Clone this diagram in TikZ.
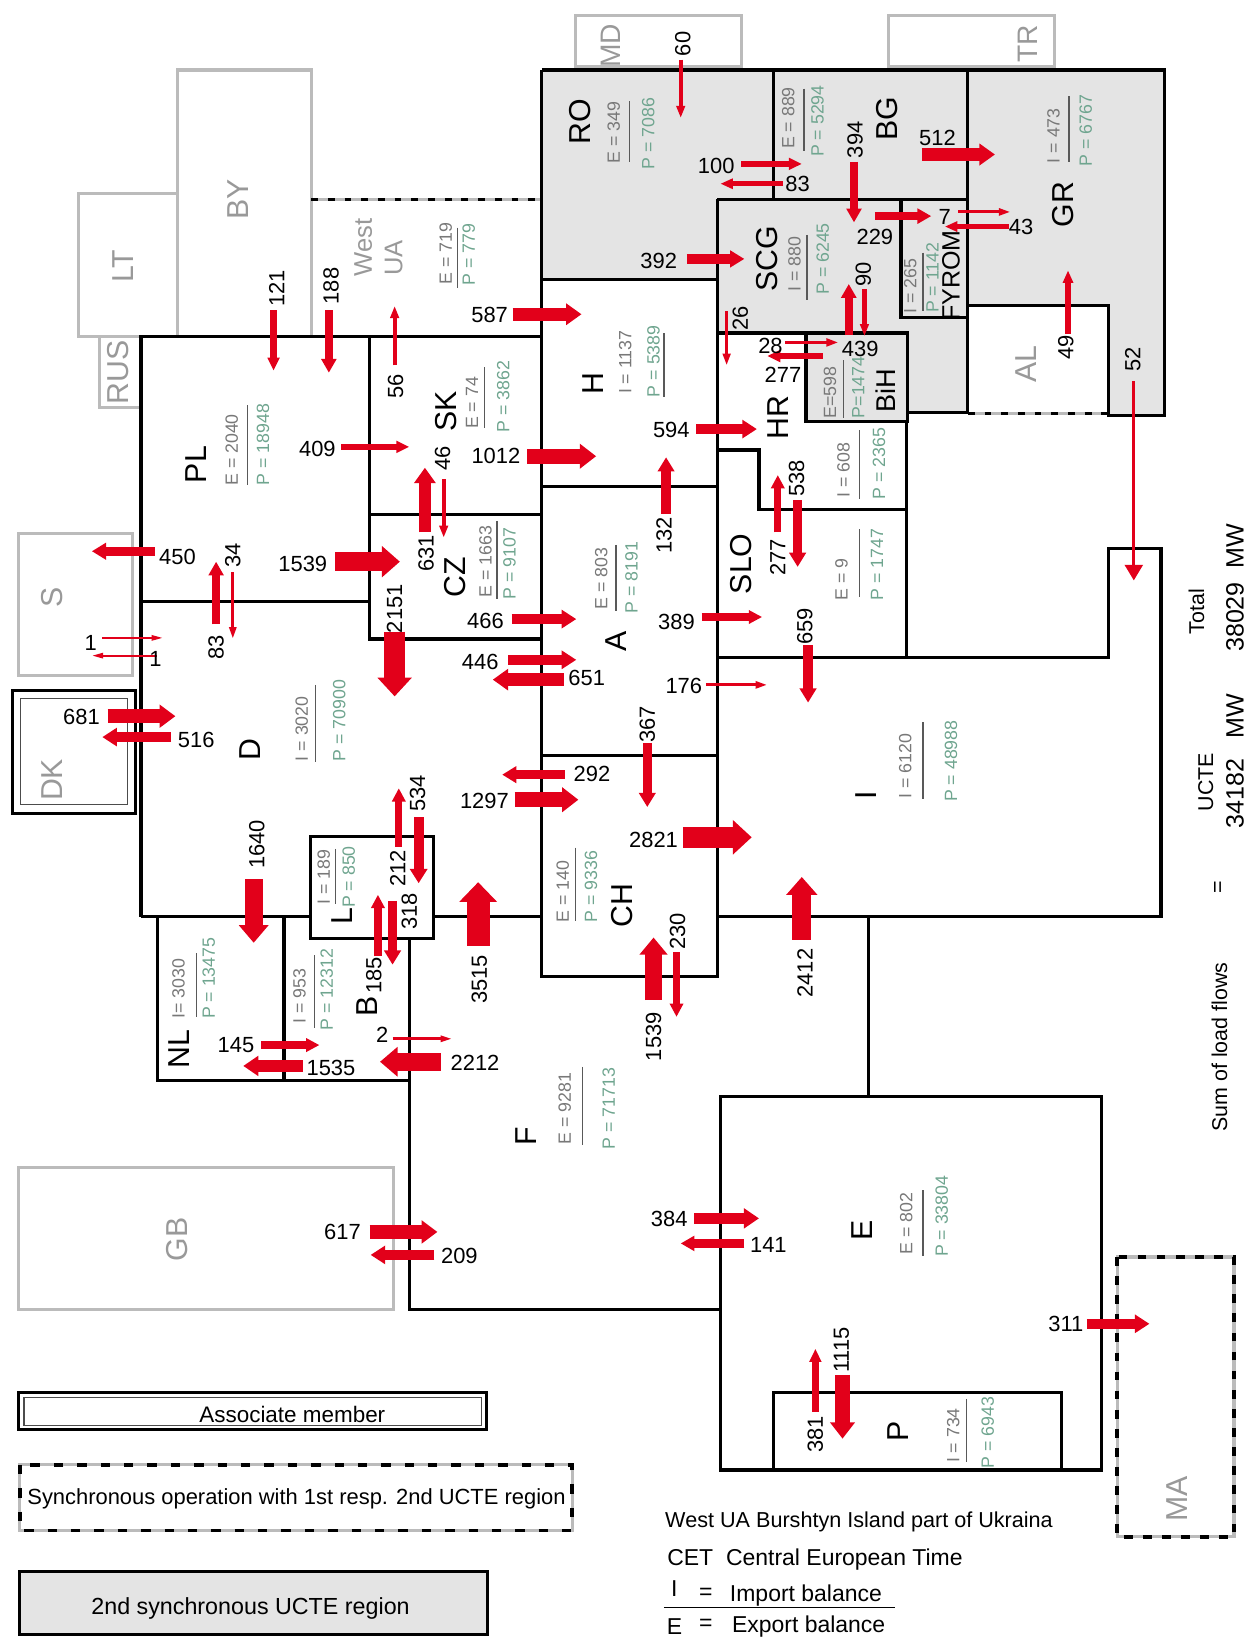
\documentclass[tikz,border=0pt]{standalone}
\usepackage{fontspec}
\setmainfont{Liberation Sans}
\usetikzlibrary{arrows.meta}
\definecolor{flowred}{HTML}{E2001A}
\definecolor{regiongray}{HTML}{E4E4E4}
\definecolor{ghostline}{HTML}{BBBBBB}
\definecolor{ghosttext}{HTML}{999999}
\definecolor{exptext}{HTML}{787878}
\definecolor{prodtext}{HTML}{6FA58F}
\tikzset{
	zone/.style={draw=black, line width=3pt},
	ghost/.style={draw=ghostline, line width=3pt},
	syncline/.style={draw=black, line width=3.5pt, preaction={draw=ghostline, solid, line width=3pt}},
	flow/.style={draw=flowred, -{Triangle[length=10pt .4, width=2pt 1.5]}},
	num/.style={inner sep=0pt, font=\fontsize{21}{24}\selectfont},
	numup/.style={num, rotate=90},
	zonename/.style={inner sep=0pt, rotate=90, font=\fontsize{29}{32}\selectfont},
	ghostname/.style={zonename, text=ghosttext},
	stat/.style={inner sep=0pt, rotate=90, font=\fontsize{17}{20}\selectfont},
	legend/.style={inner sep=0pt, font=\fontsize{#1}{24}\selectfont},
	legend/.default=22,
	sumtext/.style={inner sep=0pt, rotate=90, font=\fontsize{20.5}{24}\selectfont},
	sumvalue/.style={inner sep=0pt, rotate=90, font=\fontsize{24}{30}\selectfont}
}
\begin{document}
\begin{tikzpicture}[x=1pt, y=-1pt]
	\useasboundingbox (0,0) rectangle (1196,1568);

	% second region
	\fill[regiongray] (519,67) -- (1115,67) -- (1115,398) -- (1062,398) -- (1062,293) -- (927,293) -- (927,395) -- (869,395) -- (869,404) -- (772,404) -- (772,319) -- (687,319) -- (687,268) -- (519,268) -- cycle;

	% neighbours
	\draw[ghost] (75,185) rectangle (170,322);
	\draw[ghost] (170,67) rectangle (298,322);
	\draw[ghost] (135,322) -- (95,322) -- (95,390) -- (135,390);
	\draw[ghost] (18,511) rectangle (127,647);
	\draw[ghost] (18,1118) rectangle (377,1254);
	\draw[ghost] (551,15) rectangle (710,64);
	\draw[ghost] (851,15) rectangle (1010,64);
	\draw[syncline, dash pattern=on 8.3pt off 10pt] (1070,1204) rectangle (1182,1472);
	\draw[syncline, dash pattern=on 6.5pt off 9.5pt] (298,191) -- (519,191);
	\draw[syncline, dash pattern=on 6.5pt off 9.5pt] (927,396) -- (1062,396);

	% DK
	\draw[zone] (12,661) rectangle (130,779);
	\draw[draw=black!70, line width=1pt] (20,669) rectangle (122,771);

	% zones
	\draw[zone] (519,67) -- (1115,67) -- (1115,398) -- (1062,398) -- (1062,293) -- (927,293);
	\draw[zone] (741,67) -- (741,191);
	\draw[zone] (927,67) -- (927,395) -- (869,395);
	\draw[zone] (687,191) -- (927,191);
	\draw[zone] (863,191) -- (863,304) -- (927,304);
	\draw[zone] (519,268) -- (687,268);
	\draw[zone] (687,319) -- (772,319);
	\draw[zone] (772,319) rectangle (869,404);
	\draw[zone] (519,67) -- (519,935) -- (687,935) -- (687,191);
	\draw[zone] (687,431) -- (727,431) -- (727,488) -- (868,488);
	\draw[zone] (868,404) -- (868,630);
	\draw[zone] (687,630) -- (1062,630) -- (1062,525) -- (1112,525) -- (1112,878) -- (687,878);
	\draw[zone] (519,466) -- (687,466);
	\draw[zone] (519,724) -- (687,724);
	\draw[zone] (832,878) -- (832,1050);
	\draw[zone] (690,1050) rectangle (1055,1408);
	\draw[zone] (741,1334) rectangle (1017,1408);
	\draw[zone] (392,899) -- (392,1254) -- (690,1254);
	\draw[zone] (135,878) -- (135,322) -- (519,322);
	\draw[zone] (354,322) -- (354,612) -- (519,612);
	\draw[zone] (354,493) -- (519,493);
	\draw[zone] (135,576) -- (354,576);
	\draw[zone] (135,878) -- (297,878);
	\draw[zone] (415,878) -- (519,878);
	\draw[zone] (297,801) rectangle (415,899);
	\draw[zone] (151,878) -- (151,1035) -- (392,1035);
	\draw[zone] (272,878) -- (272,1035);

	% balances
	\foreach \xa/\ya/\ta/\xb/\yb/\tb/\xr/\yra/\yrb [count=\i] in {
		588/127/{E = 349}/621/128/{P = 7086}/603/97/155,
		755/113/{E = 889}/783/116/{P = 5294}/770/85/145,
		1009/130/{I = 473}/1040/125/{P = 6767}/1024/92/155,
		761/253/{I = 880}/788/248/{P = 6245}/773/225/287,
		872/274/{I = 265}/893/266/{P = 1142}/884/242/298,
		795/376/{E=598}/822/371/{P=1474}/808/345/400,
		599/347/{I = 1137}/626/346/{P = 5389}/636/319/380,
		222/431/{E = 2040}/252/426/{P = 18948}/237/388/465,
		452/386/{E = 74}/482/380/{P = 3862}/464/352/410,
		427/243/{E = 719}/449/244/{P = 779}/438/218/276,
		465/538/{E = 1663}/488/540/{P = 9107}/476/499/574,
		576/554/{E = 803}/605/553/{P = 8191}/590/522/585,
		808/450/{I = 608}/842/444/{P = 2365}/823/412/478,
		806/555/{E = 9}/840/541/{P = 1747}/823/507/572,
		289/698/{I = 3020}/325/690/{P = 70900}/302/656/730,
		867/734/{I = 6120}/911/729/{P = 48988}/884/692/765,
		310/840/{I = 189}/334/840/{P = 850}/321/813/866,
		171/947/{I= 3030}/200/937/{P = 13475}/188/913/974,
		287/954/{I = 953}/313/948/{P = 12312}/301/915/985,
		539/854/{E = 140}/566/849/{P = 9336}/551/812/882,
		541/1062/{E = 9281}/583/1062/{P = 71713}/558/1022/1097,
		868/1172/{E = 802}/902/1165/{P = 33804}/884/1140/1203,
		913/1375/{I = 734}/946/1372/{P = 6943}/926/1340/1400}{
		\node[stat, text=exptext] (expo\i) at (\xa,\ya) {\ta};
		\node[stat, text=prodtext] (prod\i) at (\xb,\yb) {\tb};
		\draw[draw=black!65, line width=1.2pt] (\xr,\yra) -- (\xr,\yrb);
	}

	% flows
	\foreach \xa/\ya/\xb/\yb/\w [count=\i] in {
		652/57/652/113/4, 710/157/768/157/6, 750/176/690/176/5, 883/148/953/148/12,
		818/155/818/213/8, 838/207/892/207/8, 918/203/968/203/3, 966/217/905/217/5,
		658/248/713/248/9, 813/321/813/272/8, 828/277/828/322/4, 1023/320/1023/259/5,
		696/298/696/350/3.5, 491/301/557/301/12, 752/328/803/328/3.5,
		788/341/735/341/6, 667/411/725/411/10, 638/492/638/438/9, 745/510/745/455/7,
		764/479/764/543/9, 672/591/730/591/7, 774/618/774/673/9, 676/656/735/656/3,
		620/712/620/773/9, 654/802/720/802/20, 768/900/768/840/18, 626/958/626/898/16,
		648/912/648/974/7, 458/906/458/845/22, 541/742/481/742/9, 493/766/554/766/14,
		490/593/552/593/10, 487/632/552/632/10, 540/651/472/651/12, 378/605/378/667/20,
		321/538/383/538/18, 407/510/407/448/12, 425/459/425/515/4, 505/437/571/437/14,
		327/428/392/428/6, 378/350/378/293/4, 262/297/262/355/6, 315/297/315/357/8,
		148/528/88/528/9, 207/598/207/538/8, 223/548/223/612/3, 98/611/156/611/2,
		150/628/88/628/2, 103/686/168/686/13, 164/706/98/706/10, 243/842/243/903/17,
		382/811/382/755/7, 401/783/401/846/9.5, 362/916/362/857/7, 376/863/376/924/9,
		250/1001/306/1001/7, 290/1021/233/1021/11, 376/995/433/995/2.5, 422/1017/364/1017/17,
		354/1180/419/1180/13, 416/1202/355/1202/10, 665/1167/727/1167/11, 713/1191/652/1191/8,
		1041/1268/1101/1268/10, 781/1352/781/1292/6, 807/1317/807/1378/14}{
		\coordinate (fa\i) at (\xa,\ya);
		\coordinate (fb\i) at (\xb,\yb);
		\draw[flow, line width=\w pt] (fa\i) -- (fb\i);
	}
	\coordinate (falong) at (1086,365);
	\coordinate (fblong) at (1086,556);
	\draw[draw=flowred, line width=3pt, -{Triangle[length=15pt, width=17pt]}] (falong) -- (fblong);

	% values
	\foreach \x/\y/\t [count=\i] in {
		686/159/100, 764/176/83, 898/132/512, 838/227/229, 905/208/7, 978/217/43,
		631/250/392, 469/302/587, 738/331/28, 824/334/439, 750/359/277, 643/412/594,
		475/437/1012, 304/430/409, 290/540/1539, 170/533/450, 465/595/466, 648/596/389,
		460/634/446, 562/649/651, 655/657/176, 87/616/1, 149/631/1, 78/687/681,
		188/709/516, 567/741/292, 464/767/1297, 626/805/2821, 226/1001/145, 317/1023/1535,
		366/991/2, 455/1018/2212, 328/1180/617, 440/1203/209, 641/1168/384, 736/1192/141,
		1021/1268/311}{
		\node[num] (val\i) at (\x,\y) {\t};
	}
	\foreach \x/\y/\t [count=\i] in {
		654/42/60, 819/134/394, 827/263/90, 709/305/26, 1021/333/49, 1085/344/52,
		265/276/121, 317/274/188, 379/370/56, 424/439/46, 408/530/631, 223/532/34,
		207/620/83, 378/583/2151, 636/513/132, 745/534/277, 763/458/538, 771/600/659,
		620/694/367, 400/760/534, 381/832/212, 392/873/318, 358/934/185, 246/809/1640,
		459/938/3515, 626/993/1539, 649/892/230, 771/932/2412, 781/1374/381, 806/1293/1115}{
		\node[numup] (valup\i) at (\x,\y) {\t};
	}

	% names
	\foreach \x/\y/\t in {
		556/117/RO, 850/114/BG, 1018/196/GR, 735/248/SCG, 568/367/H, 745/400/HR, 427/394/SK,
		188/445/PL, 436/553/CZ, 710/540/SLO, 590/614/A, 240/718/D, 328/877/L, 352/964/B,
		172/1005/NL, 596/867/CH, 504/1088/F, 830/762/I, 826/1179/E, 860/1371/P}{
		\node[zonename] (name\t) at (\x,\y) {\t};
	}
	\node[zonename, font=\fontsize{24}{26}\selectfont] (nameFYROM) at (911,264) {FYROM};
	\node[zonename, font=\fontsize{26}{28}\selectfont] (nameBiH) at (848,374) {BiH};
	\foreach \x/\y/\t in {
		228/191/BY, 118/255/LT, 113/357/RUS, 50/572/S, 50/747/DK, 983/349/AL, 170/1187/GB, 1127/1436/MA}{
		\node[ghostname] (name\t) at (\x,\y) {\t};
	}
	\foreach \x/\y/\t in {585/44/MD, 984/42/TR}{
		\node[ghostname, font=\fontsize{27}{29}\selectfont] (name\t) at (\x,\y) {\t};
	}
	\foreach \x/\y/\t in {348/237/West, 377/247/UA}{
		\node[ghostname, font=\fontsize{24.5}{26}\selectfont] (name\t) at (\x,\y) {\t};
	}

	% sums
	\node[sumtext] (sumlabel) at (1168,1003) {Sum of load flows};
	\node[sumtext] (sumeq) at (1168,850) {=};
	\node[sumtext] (ucte) at (1155,749) {UCTE};
	\node[sumvalue] (uctevalue) at (1183,729) {34182\ \ \ MW};
	\node[sumtext] (total) at (1146,586) {Total};
	\node[sumvalue] (totalvalue) at (1183,563) {38029\ \ MW};

	% legend
	\draw[zone] (18,1334) rectangle (466,1369);
	\draw[draw=black!70, line width=1pt] (23,1339) rectangle (461,1365);
	\node[legend=21.5] (assoc) at (280,1355) {Associate member};
	\draw[syncline, dash pattern=on 9pt off 13.4pt] (19,1403) rectangle (548,1466);
	\node[legend=21] (sync) at (284,1436) {Synchronous operation with 1st resp. 2nd UCTE region};
	\draw[zone, fill=regiongray] (19,1505) rectangle (467,1566);
	\node[legend=22.3] (second) at (240,1541) {2nd synchronous UCTE region};
	\node[legend=20.7, anchor=west] (westua) at (637,1458) {West UA Burshtyn Island part of Ukraina};
	\node[legend=22, anchor=west] (cet) at (639,1494) {CET\ \ Central European Time};
	\node[legend] (imp) at (646,1522) {I};
	\node[legend] (impeq) at (676,1527) {=};
	\node[legend, anchor=west] (imptext) at (699,1528) {Import balance};
	\draw[line width=1.2pt] (636,1540) -- (857,1540);
	\node[legend] (exp) at (646,1558) {E};
	\node[legend] (expeq) at (676,1556) {=};
	\node[legend, anchor=west] (exptext) at (701,1558) {Export balance};
\end{tikzpicture}
\end{document}
